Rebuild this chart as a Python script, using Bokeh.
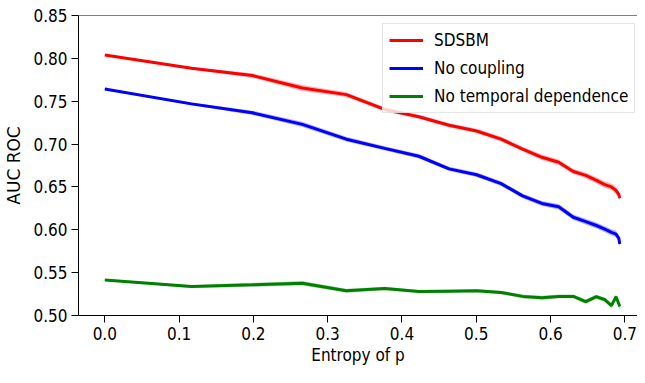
from bokeh.plotting import figure
from bokeh.models import Range1d, FixedTicker, Span
from bokeh.embed import file_html
from bokeh.resources import INLINE

# ---- data ----
entropy = [0.0, 0.1166, 0.1985, 0.2659, 0.3251, 0.3768, 0.4227, 0.4634, 0.5004, 0.5334,
           0.5623, 0.5883, 0.6109, 0.6306, 0.6474, 0.6616, 0.6730, 0.6819, 0.6881, 0.6919, 0.6931]

sdsbm = [0.8040, 0.7885, 0.7800, 0.7654, 0.7577, 0.7404, 0.7319, 0.7219, 0.7153, 0.7057,
         0.6942, 0.6846, 0.6788, 0.6680, 0.6634, 0.6576, 0.6526, 0.6500, 0.6460, 0.6410, 0.6370]
sdsbm_lo = [0.8030, 0.7870, 0.7775, 0.7620, 0.7550, 0.7380, 0.7295, 0.7195, 0.7128, 0.7030,
            0.6915, 0.6815, 0.6755, 0.6650, 0.6600, 0.6540, 0.6490, 0.6460, 0.6420, 0.6375, 0.6335]
sdsbm_hi = [0.8050, 0.7900, 0.7825, 0.7688, 0.7604, 0.7428, 0.7343, 0.7243, 0.7178, 0.7084,
            0.6969, 0.6877, 0.6821, 0.6710, 0.6668, 0.6612, 0.6562, 0.6540, 0.6500, 0.6445, 0.6405]

no_coupling = [0.7642, 0.7469, 0.7365, 0.7230, 0.7057, 0.6950, 0.6858, 0.6711, 0.6642, 0.6538,
               0.6396, 0.6307, 0.6269, 0.6146, 0.6096, 0.6050, 0.6007, 0.5970, 0.5950, 0.5900, 0.5834]
no_coupling_lo = [0.7632, 0.7452, 0.7340, 0.7200, 0.7030, 0.6925, 0.6833, 0.6686, 0.6617, 0.6511,
                  0.6369, 0.6277, 0.6236, 0.6113, 0.6062, 0.6015, 0.5972, 0.5935, 0.5912, 0.5860, 0.5795]
no_coupling_hi = [0.7652, 0.7486, 0.7390, 0.7260, 0.7084, 0.6975, 0.6883, 0.6736, 0.6667, 0.6565,
                  0.6423, 0.6337, 0.6302, 0.6179, 0.6130, 0.6085, 0.6042, 0.6005, 0.5988, 0.5940, 0.5873]

no_temporal = [0.5415, 0.5338, 0.5358, 0.5376, 0.5288, 0.5315, 0.5280, 0.5284, 0.5288, 0.5269,
               0.5223, 0.5208, 0.5223, 0.5223, 0.5162, 0.5219, 0.5185, 0.5115, 0.5219, 0.5134, 0.5104]
no_temporal_lo = [0.5405, 0.5322, 0.5335, 0.5350, 0.5265, 0.5295, 0.5262, 0.5266, 0.5270, 0.5248,
                  0.5200, 0.5185, 0.5200, 0.5200, 0.5135, 0.5195, 0.5160, 0.5085, 0.5190, 0.5105, 0.5075]
no_temporal_hi = [0.5425, 0.5354, 0.5381, 0.5402, 0.5311, 0.5335, 0.5298, 0.5302, 0.5306, 0.5290,
                  0.5246, 0.5231, 0.5246, 0.5246, 0.5189, 0.5243, 0.5210, 0.5145, 0.5248, 0.5163, 0.5133]

series_names = ["SDSBM", "No coupling", "No temporal dependence"]

x_ticks = [0.0, 0.1, 0.2, 0.3, 0.4, 0.5, 0.6, 0.7]
x_tick_labels = ["0.0", "0.1", "0.2", "0.3", "0.4", "0.5", "0.6", "0.7"]
y_ticks = [0.50, 0.55, 0.60, 0.65, 0.70, 0.75, 0.80, 0.85]
y_tick_labels = ["0.50", "0.55", "0.60", "0.65", "0.70", "0.75", "0.80", "0.85"]

# ---- styling ----
FONT = "DejaVu Sans Condensed"
FONT_REG = "DejaVu Sans"
colors = ["#ff0000", "#0000ff", "#008000"]

p = figure(width=637, height=367, output_backend="svg", toolbar_location=None,
           x_range=Range1d(-0.0354, 0.7170), y_range=Range1d(0.50, 0.85),
           min_border_left=78, min_border_right=0, min_border_top=15, min_border_bottom=50)

p.outline_line_color = None
p.xgrid.visible = False
p.ygrid.visible = False
p.background_fill_color = "white"
p.border_fill_color = "white"

for ax in (p.xaxis[0], p.yaxis[0]):
    ax.axis_line_color = "black"
    ax.axis_line_width = 1
    ax.major_tick_line_color = "black"
    ax.major_tick_in = 0
    ax.major_tick_out = 7
    ax.minor_tick_line_color = None
    ax.major_label_text_font = FONT
    ax.major_label_text_font_size = "17px"
    ax.major_label_text_color = "black"

p.xaxis[0].ticker = FixedTicker(ticks=x_ticks)
p.xaxis[0].major_label_overrides = dict(zip(x_ticks, x_tick_labels))
p.xaxis[0].major_label_standoff = 4
p.xaxis[0].axis_label = "Entropy of p"
p.xaxis[0].axis_label_text_font = FONT
p.xaxis[0].axis_label_text_font_size = "17px"
p.xaxis[0].axis_label_text_font_style = "normal"
p.xaxis[0].axis_label_text_color = "black"
p.xaxis[0].axis_label_standoff = 2

p.yaxis[0].ticker = FixedTicker(ticks=y_ticks)
p.yaxis[0].major_label_overrides = dict(zip(y_ticks, y_tick_labels))
p.yaxis[0].major_label_standoff = 4
p.yaxis[0].axis_label = "AUC ROC"
p.yaxis[0].axis_label_text_font = FONT_REG
p.yaxis[0].axis_label_text_font_size = "17px"
p.yaxis[0].axis_label_text_font_style = "normal"
p.yaxis[0].axis_label_text_color = "black"
p.yaxis[0].axis_label_standoff = 6

# top spine
p.add_layout(Span(location=0.85, dimension="width", line_color="black", line_width=1))

# bands then lines
bands = [(sdsbm_lo, sdsbm_hi), (no_coupling_lo, no_coupling_hi), (no_temporal_lo, no_temporal_hi)]
means = [sdsbm, no_coupling, no_temporal]
for (lo, hi), c in zip(bands, colors):
    p.varea(x=entropy, y1=lo, y2=hi, fill_color=c, fill_alpha=0.3)
for m, c, name in zip(means, colors, series_names):
    p.line(entropy, m, line_color=c, line_width=3, legend_label=name)

leg = p.legend[0]
leg.location = (304, 202)
leg.label_text_font = FONT
leg.label_text_font_size = "17px"
leg.label_text_color = "black"
leg.glyph_width = 34
leg.glyph_height = 20
leg.label_height = 20
leg.label_standoff = 11
leg.spacing = 8
leg.padding = 6
leg.margin = 0
leg.border_line_color = "#cccccc"
leg.border_line_width = 1
leg.background_fill_alpha = 0.8

open("out.html", "w").write(file_html(p, INLINE))
